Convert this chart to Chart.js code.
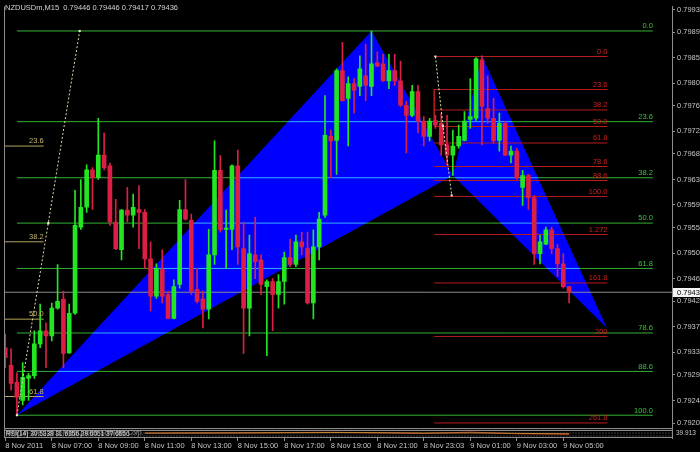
<!DOCTYPE html>
<html>
<head>
<meta charset="utf-8">
<script src="https://cdn.jsdelivr.net/npm/chart.js@4.4.1/dist/chart.umd.min.js"></script>
<style>
    html, body { margin: 0; padding: 0; background: #000; }
    #wrap { width: 700px; height: 452px; }
</style>
</head>
<body>
<div id="wrap"><canvas id="chart" width="700" height="452"></canvas></div>
<script>
const titleText = 'NZDUSDm,M15  0.79446 0.79446 0.79417 0.79436';

// M15 candles, bar 0 = 8 Nov 05:00
const opens = [0.79338, 0.79307, 0.79277, 0.79245, 0.79284, 0.79289, 0.79345, 0.79368, 0.79359, 0.79408,
    0.79424, 0.79329, 0.79399, 0.79551, 0.79586, 0.79652, 0.79638, 0.79678, 0.79659, 0.79560,
    0.79511, 0.79581, 0.79572, 0.79582, 0.79577, 0.79495, 0.79429, 0.79476, 0.79432, 0.79390,
    0.79450, 0.79582, 0.79563, 0.79441, 0.79424, 0.79406, 0.79502, 0.79651, 0.79547, 0.79547,
    0.79659, 0.79513, 0.79408, 0.79502, 0.79493, 0.79446, 0.79455, 0.79432, 0.79455, 0.79497,
    0.79485, 0.79525, 0.79513, 0.79417, 0.79516, 0.79572, 0.79711, 0.79704, 0.79827, 0.79778,
    0.79804, 0.79799, 0.79818, 0.79799, 0.79841, 0.79839, 0.79809, 0.79827, 0.79809, 0.79766,
    0.79748, 0.79790, 0.79738, 0.79711, 0.79739, 0.79734, 0.79696, 0.79678, 0.79694, 0.79704,
    0.79741, 0.79743, 0.79846, 0.79760, 0.79743, 0.79704, 0.79734, 0.79678, 0.79685, 0.79621,
    0.79642, 0.79603, 0.79504, 0.79521, 0.79546, 0.79513, 0.79486, 0.79446];
const highs = [0.79362, 0.79336, 0.79294, 0.79312, 0.79293, 0.79368, 0.79415, 0.79382, 0.79417, 0.79485,
    0.79438, 0.79415, 0.79616, 0.79635, 0.79661, 0.79656, 0.79743, 0.79717, 0.79664, 0.79600,
    0.79582, 0.79621, 0.79609, 0.79624, 0.79582, 0.79525, 0.79486, 0.79511, 0.79438, 0.79458,
    0.79598, 0.79635, 0.79574, 0.79478, 0.79438, 0.79547, 0.79703, 0.79677, 0.79581, 0.79661,
    0.79687, 0.79560, 0.79537, 0.79568, 0.79502, 0.79458, 0.79460, 0.79467, 0.79507, 0.79530,
    0.79537, 0.79542, 0.79542, 0.79546, 0.79577, 0.79783, 0.79722, 0.79830, 0.79877, 0.79816,
    0.79813, 0.79853, 0.79874, 0.79897, 0.79860, 0.79856, 0.79856, 0.79856, 0.79844, 0.79773,
    0.79801, 0.79801, 0.79746, 0.79743, 0.79748, 0.79752, 0.79748, 0.79722, 0.79731, 0.79755,
    0.79813, 0.79850, 0.79853, 0.79818, 0.79778, 0.79752, 0.79738, 0.79694, 0.79690, 0.79651,
    0.79644, 0.79607, 0.79537, 0.79551, 0.79551, 0.79520, 0.79504, 0.79446];
const lows = [0.79303, 0.79263, 0.79219, 0.79237, 0.79245, 0.79284, 0.79338, 0.79303, 0.79350, 0.79406,
    0.79303, 0.79328, 0.79397, 0.79547, 0.79577, 0.79582, 0.79635, 0.79652, 0.79554, 0.79511,
    0.79493, 0.79560, 0.79551, 0.79513, 0.79478, 0.79403, 0.79425, 0.79417, 0.79389, 0.79389,
    0.79443, 0.79563, 0.79432, 0.79417, 0.79373, 0.79389, 0.79485, 0.79542, 0.79478, 0.79511,
    0.79485, 0.79328, 0.79359, 0.79460, 0.79432, 0.79324, 0.79368, 0.79408, 0.79415, 0.79481,
    0.79481, 0.79502, 0.79415, 0.79389, 0.79493, 0.79568, 0.79638, 0.79644, 0.79773, 0.79694,
    0.79752, 0.79783, 0.79774, 0.79783, 0.79834, 0.79808, 0.79795, 0.79801, 0.79764, 0.79682,
    0.79746, 0.79717, 0.79694, 0.79703, 0.79725, 0.79678, 0.79661, 0.79642, 0.79690, 0.79703,
    0.79725, 0.79739, 0.79696, 0.79734, 0.79699, 0.79685, 0.79677, 0.79664, 0.79635, 0.79589,
    0.79582, 0.79485, 0.79486, 0.79520, 0.79504, 0.79464, 0.79443, 0.79417];
const closes = [0.79321, 0.79275, 0.79251, 0.79286, 0.79289, 0.79345, 0.79368, 0.79359, 0.79408, 0.79420,
    0.79328, 0.79399, 0.79554, 0.79586, 0.79652, 0.79638, 0.79678, 0.79656, 0.79560, 0.79513,
    0.79581, 0.79572, 0.79586, 0.79577, 0.79495, 0.79429, 0.79478, 0.79429, 0.79390, 0.79446,
    0.79582, 0.79565, 0.79438, 0.79420, 0.79406, 0.79502, 0.79651, 0.79546, 0.79549, 0.79659,
    0.79516, 0.79408, 0.79504, 0.79490, 0.79450, 0.79455, 0.79432, 0.79455, 0.79497, 0.79485,
    0.79525, 0.79516, 0.79417, 0.79516, 0.79565, 0.79713, 0.79703, 0.79827, 0.79774, 0.79804,
    0.79792, 0.79830, 0.79801, 0.79839, 0.79835, 0.79809, 0.79827, 0.79809, 0.79766, 0.79748,
    0.79790, 0.79738, 0.79711, 0.79738, 0.79731, 0.79696, 0.79678, 0.79694, 0.79711, 0.79738,
    0.79746, 0.79848, 0.79764, 0.79743, 0.79703, 0.79734, 0.79678, 0.79685, 0.79638, 0.79642,
    0.79603, 0.79504, 0.79525, 0.79546, 0.79513, 0.79486, 0.79446, 0.79436];

const timeTickBars = [0, 8, 16, 24, 32, 40, 48, 56, 64, 72, 80, 88, 96];
const timeTickLabels = ['8 Nov 2011', '8 Nov 07:00', '8 Nov 09:00', '8 Nov 11:00', '8 Nov 13:00',
    '8 Nov 15:00', '8 Nov 17:00', '8 Nov 19:00', '8 Nov 21:00', '8 Nov 23:03',
    '9 Nov 01:00', '9 Nov 03:00', '9 Nov 05:00'];

const priceTicks = [0.79935, 0.79895, 0.79850, 0.79805, 0.79765, 0.79720, 0.79680, 0.79635, 0.79590,
    0.79550, 0.79505, 0.79460, 0.79420, 0.79375, 0.79330, 0.79290, 0.79245, 0.79205];
const lastPrice = 0.79436;

// gartley legs: X-A-B and B-C-D (bar index / price)
const xabBars = [2, 63, 77];
const xabPrices = [0.79219, 0.79897, 0.79642];
const bcdBars = [77, 82, 103.5];
const bcdPrices = [0.79642, 0.79853, 0.79373];

// fibo objects: [0% price, 100% price], bar span
const greenFibLevels = [0, 23.6, 38.2, 50, 61.8, 78.6, 88.6, 100];
const greenFibAnchor = [0.79897, 0.79219];
const greenFibBars = [2, 111.4];

const redFibLevels = [0, 23.6, 38.2, 50, 61.8, 78.6, 88.6, 100, 127.2, 161.8, 200, 261.8];
const redFibLabels = ['0.0', '23.6', '38.2', '50.0', '61.8', '78.6', '88.6', '100.0', '1.272', '161.8', '200', '261.8'];
const redFibAnchor = [0.79852, 0.79605];
const redFibBars = [73.8, 103.6];
const redStemPrices = [0.79794, 0.79734];

const goldFibLevels = [23.6, 38.2, 50, 61.8];
const goldFibAnchor = [0.79967, 0.78810];
const goldFibBars = [-1, 6.6];

const leftTrendBars = [2, 7.4, 12.8];
const leftTrendPrices = [0.79219, 0.79558, 0.79897];
const rightTrendBars = [74, 75.3, 76.8];
const rightTrendPrices = [0.79852, 0.79729, 0.79607];

// oscillator sub window
const oscBars = [24, 32, 40, 48, 56, 64, 72, 80, 88, 97];
const oscMain = [48, 52, 50, 55, 58, 52, 45, 60, 42, 38];
const oscSignal = [50, 50, 52, 53, 55, 54, 50, 52, 47, 42];
const oscLevels = [20, 50, 80];

const bull = '#22e622';
const bear = '#dc1f45';
const font = "'Liberation Sans', Arial, sans-serif";

const candleColor = c => closes[c.dataIndex] >= opens[c.dataIndex] ? bull : bear;

const flatLine = (x0, x1, y, color, extra) => Object.assign({
    type: 'line',
    data: [{ x: x0, y: y }, { x: x1, y: y }],
    borderColor: color,
    borderWidth: 1,
    pointRadius: 0,
    order: 3
}, extra);

const fibSets = (levels, labels, anchor, bars, color, labelColor, blend) =>
    levels.map((lvl, k) => flatLine(bars[0], bars[1], anchor[0] - (anchor[0] - anchor[1]) * lvl / 100, color,
        { fibLabel: labels[k], labelColor: labelColor, blend: blend }));

const datasets = [
    {
        type: 'line',
        data: leftTrendBars.map((b, i) => ({ x: b, y: leftTrendPrices[i] })),
        borderColor: '#dcdca8', borderWidth: 1, borderDash: [2, 2],
        pointStyle: 'rect', pointRadius: 1.5, pointBackgroundColor: '#f0f0d0', pointBorderWidth: 0,
        order: 0
    },
    {
        type: 'line',
        data: rightTrendBars.map((b, i) => ({ x: b, y: rightTrendPrices[i] })),
        borderColor: '#e6e6b8', borderWidth: 1, borderDash: [2, 2],
        pointStyle: 'rect', pointRadius: 1.5, pointBackgroundColor: '#f0d8c8', pointBorderWidth: 0,
        order: 0
    },
    {
        type: 'bar',
        data: highs.map((h, i) => ({ x: i, y: [lows[i], h] })),
        backgroundColor: candleColor,
        barThickness: 1, grouped: false, order: 1
    },
    {
        type: 'bar',
        data: opens.map((o, i) => ({ x: i, y: [o, closes[i]] })),
        backgroundColor: candleColor,
        barThickness: 4, minBarLength: 1, grouped: false, order: 1
    },
    flatLine(-1, 120, lastPrice, '#8c8c8c', { order: 2 }),
    ...fibSets(greenFibLevels, greenFibLevels.map(v => v.toFixed(1)), greenFibAnchor, greenFibBars, '#33b033', '#38c838', 'lighter'),
    ...fibSets(redFibLevels, redFibLabels, redFibAnchor, redFibBars, '#b81c1c', '#c82222'),
    ...fibSets(goldFibLevels, goldFibLevels.map(v => v.toFixed(1)), goldFibAnchor, goldFibBars, '#b4a45c', '#c8b86c'),
    {
        type: 'line',
        data: redStemPrices.map(p => ({ x: redFibBars[0], y: p })),
        borderColor: '#b81c1c', borderWidth: 1, pointRadius: 0, order: 3
    },
    {
        type: 'line',
        data: xabBars.map((b, i) => ({ x: b, y: xabPrices[i] })),
        borderWidth: 0, pointRadius: 0, fill: 'shape', backgroundColor: '#0000ff', order: 5
    },
    {
        type: 'line',
        data: bcdBars.map((b, i) => ({ x: b, y: bcdPrices[i] })),
        borderWidth: 0, pointRadius: 0, fill: 'shape', backgroundColor: '#0000ff', order: 5
    },
    ...oscLevels.map(v => flatLine(-1, 120, v, '#777777', { yAxisID: 'y2', borderDash: [1, 2], order: 4 })),
    {
        type: 'line', yAxisID: 'y2',
        data: oscBars.map((b, i) => ({ x: b, y: oscSignal[i] })),
        borderColor: '#d08a20', borderWidth: 1, pointRadius: 0, order: 4
    },
    {
        type: 'line', yAxisID: 'y2',
        data: oscBars.map((b, i) => ({ x: b, y: oscMain[i] })),
        borderColor: '#c02828', borderWidth: 1, pointRadius: 0, order: 4
    }
];

const chartDecor = {
    id: 'chartDecor',
    beforeDraw(chart) {
        const ctx = chart.ctx;
        ctx.save();
        ctx.fillStyle = '#000';
        ctx.fillRect(0, 0, chart.width, chart.height);
        ctx.restore();
    },
    beforeDatasetDraw(chart, args) {
        const ds = chart.data.datasets[args.index];
        if (ds.blend) {
            chart.ctx.save();
            chart.ctx.globalCompositeOperation = ds.blend;
        }
    },
    afterDatasetDraw(chart, args) {
        if (chart.data.datasets[args.index].blend) chart.ctx.restore();
    },
    afterDatasetsDraw(chart) {
        const ctx = chart.ctx;
        const area = chart.chartArea;
        const y2 = chart.scales.y2;
        ctx.save();

        // fibo level captions
        ctx.font = '7.5px ' + font;
        ctx.textAlign = 'right';
        ctx.textBaseline = 'bottom';
        chart.data.datasets.forEach((ds, i) => {
            if (!ds.fibLabel) return;
            const pt = chart.getDatasetMeta(i).data[1];
            ctx.fillStyle = ds.labelColor;
            ctx.fillText(ds.fibLabel, pt.x, pt.y - 1);
        });

        // frame and sub window separators
        ctx.strokeStyle = '#8c8c8c';
        ctx.lineWidth = 1;
        ctx.beginPath();
        ctx.moveTo(area.left + 0.5, area.top);
        ctx.lineTo(area.left + 0.5, area.bottom);
        const sepY = Math.round(y2.getPixelForValue(104)) + 0.5;
        ctx.moveTo(area.left, sepY);
        ctx.lineTo(area.right, sepY);
        ctx.moveTo(area.left, sepY + 2);
        ctx.lineTo(area.right, sepY + 2);
        ctx.moveTo(area.left, area.bottom - 0.5);
        ctx.lineTo(area.right, area.bottom - 0.5);
        ctx.stroke();

        // title and sub window caption
        ctx.textAlign = 'left';
        ctx.textBaseline = 'middle';
        ctx.fillStyle = '#d4d4d4';
        ctx.font = '7.5px ' + font;
        ctx.fillText(titleText, 5, 8);
        const capY = y2.getPixelForValue(50);
        ctx.font = '6.5px ' + font;
        ctx.fillStyle = '#9a9a9a';
        ctx.fillText('MFI(14) 2001-2011 MetaQuotes Software Corp.', 6, capY);
        ctx.fillStyle = '#d8d8d8';
        ctx.fillText('RSI(14) 30.5338 31.6356 29.6051 37.6556', 6, capY + 1);
        ctx.fillStyle = '#c8c8c8';
        ctx.fillText('39.913', area.right + 4, capY);

        // current price tag
        const py = Math.round(chart.scales.y.getPixelForValue(lastPrice));
        ctx.fillStyle = '#f4f4f4';
        ctx.fillRect(area.right + 1, py - 4, chart.width - area.right, 9);
        ctx.fillStyle = '#000';
        ctx.font = '7.5px ' + font;
        ctx.fillText(lastPrice.toFixed(5), area.right + 5, py + 0.5);
        ctx.restore();
    }
};

new Chart(document.getElementById('chart'), {
    type: 'bar',
    data: { datasets: datasets },
    options: {
        responsive: false,
        animation: false,
        events: [],
        layout: { padding: { left: 2, top: 2, right: 0, bottom: 0 } },
        plugins: {
            legend: { display: false },
            tooltip: { enabled: false }
        },
        scales: {
            x: {
                type: 'linear',
                offset: false,
                min: -0.22,
                max: 114.7,
                afterBuildTicks: s => { s.ticks = timeTickBars.map(v => ({ value: v })); },
                afterFit: s => { s.height = 14; },
                ticks: {
                    autoSkip: false,
                    maxRotation: 0,
                    align: 'start',
                    padding: 0,
                    color: '#c4c4c4',
                    font: { family: font, size: 7.5 },
                    callback: (v, i) => timeTickLabels[i]
                },
                grid: { offset: false, drawOnChartArea: false, tickLength: 3, color: '#8c8c8c' },
                border: { display: false }
            },
            y: {
                position: 'right',
                min: 0.791788,
                max: 0.799402,
                afterBuildTicks: s => { s.ticks = priceTicks.map(v => ({ value: v })); },
                afterFit: s => { s.width = 28; },
                ticks: {
                    autoSkip: false,
                    padding: 2,
                    color: '#c4c4c4',
                    font: { family: font, size: 7.5 },
                    callback: v => v.toFixed(5)
                },
                grid: { drawOnChartArea: false, tickLength: 3, color: '#8c8c8c' },
                border: { color: '#8c8c8c' }
            },
            y2: {
                display: false,
                position: 'right',
                min: 0,
                max: 4360
            }
        }
    },
    plugins: [chartDecor]
});
</script>
</body>
</html>
